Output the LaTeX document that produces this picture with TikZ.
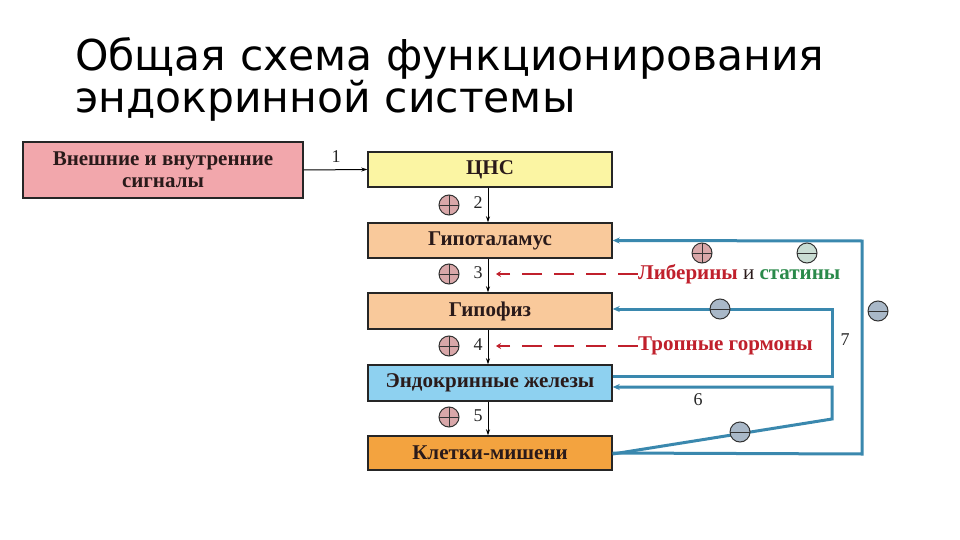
\documentclass[tikz,border=0pt]{standalone}
\usepackage{fontspec}
\setmainfont{Liberation Serif}
\newfontfamily\titlefont{DejaVu Sans}
\usetikzlibrary{arrows.meta}
\definecolor{sigfill}{HTML}{F2A7AC}
\definecolor{cnsfill}{HTML}{FBF5A3}
\definecolor{hypfill}{HTML}{F9C99B}
\definecolor{endfill}{HTML}{8ED1F0}
\definecolor{klfill}{HTML}{F3A33F}
\definecolor{fbblue}{HTML}{3A88AE}
\definecolor{hormred}{HTML}{C0202C}
\definecolor{statgreen}{HTML}{2A8A4A}
\definecolor{plusfill}{HTML}{D9A7A9}
\definecolor{minusgreen}{HTML}{C9DDD3}
\definecolor{minusgrey}{HTML}{A9B8C8}
\definecolor{boxtext}{HTML}{2A1A1A}
\tikzset{
  organ/.style={draw=black!85, line width=1.4pt, minimum width=244pt, inner sep=0pt,
    font=\fontsize{21}{22}\selectfont\bfseries, text=boxtext},
  plusc/.style={circle, draw=black!80, line width=1pt, fill=plusfill, minimum size=20pt, inner sep=0pt,
    path picture={\draw[black!80, line width=0.8pt] (path picture bounding box.north)--(path picture bounding box.south)
      (path picture bounding box.west)--(path picture bounding box.east);}},
  minusc/.style={circle, draw=black!80, line width=1pt, fill=#1, minimum size=20pt, inner sep=0pt,
    path picture={\draw[black!80, line width=0.8pt] (path picture bounding box.west)--(path picture bounding box.east);}},
  num/.style={font=\fontsize{18}{20}\selectfont, text=black!85, inner sep=0pt},
  down/.style={-{Stealth[length=6pt,width=4pt]}, line width=1pt, black},
  fb/.style={draw=fbblue, line width=3pt},
  fbarrow/.style={fb, -{Stealth[length=7pt,width=6pt]}},
  hormdash/.style={draw=hormred, line width=2.5pt, dash pattern=on 20pt off 12pt, -{Stealth[length=5pt,width=6pt]}},
  hormtext/.style={font=\fontsize{21}{22}\selectfont\bfseries, inner sep=0pt, anchor=west}
}
\begin{document}
\begin{tikzpicture}[x=1pt,y=-1pt]
\useasboundingbox (0,0) rectangle (960,540);
\fill[white] (0,0) rectangle (960,540);
% title
\node[anchor=base west, inner sep=0pt, align=left, font=\titlefont\fontsize{42.5}{37}\selectfont] (title) at (75,113)
  {Общая схема функционирования\\эндокринной системы};
% boxes
\node[organ, fill=sigfill, minimum width=280pt, minimum height=56pt, align=center] (sig) at (163,170) {Внешние и внутренние\\сигналы};
\node[organ, fill=cnsfill, minimum height=35pt] (cns) at (490,169.5) {ЦНС};
\node[organ, fill=hypfill, minimum height=35pt] (hyp) at (490,240.5) {Гипоталамус};
\node[organ, fill=hypfill, minimum height=36pt] (pit) at (490,311) {Гипофиз};
\node[organ, fill=endfill, minimum height=36pt] (end) at (490,383) {Эндокринные железы};
\node[organ, fill=klfill, minimum height=34pt] (kl) at (490,453) {Клетки-мишени};
% main chain
\draw[down] (sig.east) -- (cns.west);
\node[num] (n1) at (336,157) {1};
\draw[down] ([xshift=-2pt]cns.south) -- ([xshift=-2pt]hyp.north);
\draw[down] ([xshift=-2pt]hyp.south) -- ([xshift=-2pt]pit.north);
\draw[down] ([xshift=-2pt]pit.south) -- ([xshift=-2pt]end.north);
\draw[down] ([xshift=-2pt]end.south) -- ([xshift=-2pt]kl.north);
\node[plusc] (p2) at (449,205) {};
\node[plusc] (p3) at (449,274) {};
\node[plusc] (p4) at (449,346) {};
\node[plusc] (p5) at (449,417) {};
\node[num] (n2) at (478,203) {2};
\node[num] (n3) at (478,273) {3};
\node[num] (n4) at (478,345) {4};
\node[num] (n5) at (478,416) {5};
% hormones
\node[hormtext] (lib) at (638,274) {\textcolor{hormred}{Либерины} \textcolor{boxtext}{\mdseries и} \textcolor{statgreen}{статины}};
\node[hormtext] (trop) at (638,346) {\textcolor{hormred}{Тропные гормоны}};
\coordinate (l3) at (496,274);
\coordinate (l4) at (496,346);
\draw[hormdash] (lib.west) -- (l3);
\draw[hormdash] (trop.west) -- (l4);
% feedback loops
\coordinate (o1) at (862,454);
\coordinate (o2) at (862,241);
\draw[fbarrow] (kl.east) -- (o1) -- (o2) -- (hyp.east);
\coordinate (i1) at (832,376);
\coordinate (i2) at (832,309);
\draw[fbarrow] ([yshift=7pt]end.east) -- (i1) -- (i2) -- ([yshift=2pt]pit.east);
\coordinate (s1) at (832,419);
\coordinate (s2) at (832,387);
\draw[fbarrow] ([yshift=-1pt]kl.east) -- (s1) -- (s2) -- ([yshift=-4pt]end.east);
\node[minusc=minusgrey] (m6) at (740,432) {};
\node[minusc=minusgrey] (m7) at (720,309) {};
\node[minusc=minusgrey] (mo) at (878,311) {};
\node[plusc] (pt) at (702,253) {};
\node[minusc=minusgreen] (mt) at (807,253) {};
\node[num] (n7) at (845,340) {7};
\node[num] (n6) at (698,400) {6};
\end{tikzpicture}
\end{document}
